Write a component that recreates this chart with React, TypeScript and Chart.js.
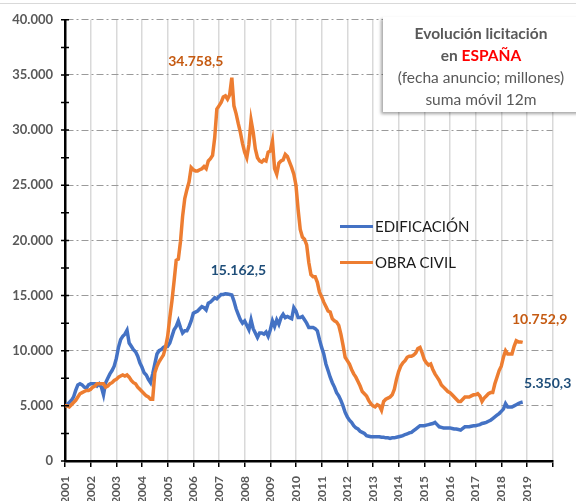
import React, { useEffect, useRef } from "react";
import { Chart, registerables } from "chart.js";

Chart.register(...registerables);

// ---- data (millones de euros, suma móvil 12 meses, mensual desde ene-2001) ----
const yearLabels = [
  "2001", "2002", "2003", "2004", "2005", "2006", "2007", "2008", "2009", "2010",
  "2011", "2012", "2013", "2014", "2015", "2016", "2017", "2018", "2019",
];

const edificacion = [
  5000, 5100, 5300, 5500, 5800, 6400, 6900, 7000, 6900, 6700, 6600, 6900,
  7000, 7000, 7000, 6800, 7000, 6700, 6000, 7100, 7500, 7900, 8200, 8600,
  9300, 10300, 11000, 11300, 11500, 11850, 10700, 10400, 10100, 9900, 9500, 8900,
  8500, 8000, 7800, 7400, 7100, 7900, 8800, 9700, 10000, 10100, 10300, 10400,
  10400, 10700, 11300, 11900, 12200, 12700, 12100, 11600, 11800, 11800, 12200, 12700,
  13400, 13500, 13600, 13800, 14000, 13900, 13700, 14300, 14400, 14600, 14800, 14700,
  14900, 15100, 15100, 15162.5, 15150, 15100, 15050, 14500, 13800, 13300, 12800, 12500,
  12700, 12300, 11900, 12800, 12000, 11600, 11200, 11600, 11600, 11500, 11700, 11300,
  11900, 12700, 12200, 12800, 12400, 13000, 13300, 13000, 13100, 13000, 12900, 13900,
  13600, 13000, 13000, 13100, 12800, 12500, 12100, 12100, 12100, 12000, 11800, 11000,
  10300, 9700, 8800, 8200, 7600, 7100, 6700, 6200, 5900, 5500, 5000, 4400,
  4000, 3700, 3500, 3200, 3000, 2900, 2700, 2600, 2500, 2300, 2250, 2200,
  2200, 2200, 2200, 2200, 2150, 2150, 2100, 2100, 2050, 2100, 2100, 2150,
  2200, 2250, 2300, 2400, 2450, 2550, 2600, 2750, 2900, 3050, 3200, 3200,
  3200, 3250, 3300, 3350, 3400, 3500, 3300, 3100, 3050, 3000, 3000, 3000,
  3000, 2950, 2900, 2900, 2850, 2800, 2950, 3100, 3100, 3100, 3150, 3200,
  3200, 3250, 3300, 3400, 3450, 3500, 3600, 3700, 3850, 4000, 4150, 4300,
  4500, 4700, 5200, 4900, 4900, 4900, 5000, 5100, 5200, 5300, 5350.3,
];

const obraCivil = [
  5000, 5000, 4900, 5100, 5300, 5500, 5800, 6100, 6200, 6300, 6400, 6400,
  6500, 6700, 6800, 7000, 7000, 7000, 7000, 6700, 6800, 7000, 7100, 7300,
  7400, 7600, 7700, 7800, 7700, 7800, 7600, 7300, 7100, 7000, 6700, 6500,
  6300, 6100, 5900, 5800, 5600, 5600, 8000, 8600, 9000, 9300, 9600, 10300,
  11300, 13000, 14500, 16300, 18200, 18300, 19900, 22200, 23800, 24600, 25300, 26600,
  26400, 26300, 26300, 26400, 26500, 26700, 26500, 27200, 27400, 27700, 29300, 31900,
  32200, 32500, 33000, 33100, 32800, 33200, 34758.5, 32200, 31500, 30600, 29800, 28800,
  28000, 27500, 28700, 30900, 29800, 28300, 27500, 27200, 27100, 27300, 27200, 28000,
  28100, 29000, 26500, 26000, 27000, 27200, 27300, 27800, 27600, 27100, 26600, 26000,
  25000, 22800, 21000, 20300, 20100, 19600, 18000, 16900, 16700, 16700, 16200, 15300,
  14900, 14400, 14000, 13600, 13500, 12900, 12700, 12600, 12300, 11500, 10500, 9400,
  9100, 8800, 8300, 7900, 7600, 7200, 6800, 6300, 6100, 5900, 5500, 5200,
  5000, 4900, 5100, 5000, 4600, 5400, 5600, 5700, 5800, 6000, 6500, 7400,
  8100, 8600, 8900, 9100, 9400, 9500, 9500, 9600, 9800, 10200, 10300, 9800,
  9200, 8900, 8700, 8800, 8300, 7900, 7600, 7300, 6900, 6700, 6500, 6300,
  6200, 6000, 5800, 5600, 5400, 5400, 5600, 5800, 5800, 5800, 5900, 6000,
  6000, 6100, 5900, 5400, 5700, 5900, 6100, 6200, 6200, 7000, 7600, 8200,
  8600, 9400, 10000, 9700, 9700, 9700, 10400, 10900, 10800, 10800, 10752.9,
];

const seriesNames = ["EDIFICACIÓN", "OBRA CIVIL"];
const Y_MAX = 40000;
const Y_STEP = 5000;
const Y_MINOR = 2500;
const MONTHS_PER_YEAR = 12;

// ---- styles ----
const BLUE = "#4472C4";
const ORANGE = "#ED7D31";
const BLUE_LABEL = "#1F4E79";
const ORANGE_LABEL = "#C55A11";
const GREY_TEXT = "#595959";
const FONT = "Lato, 'Open Sans', sans-serif";

const thousands = (n: number) =>
  Math.round(n).toString().replace(/\B(?=(\d{3})+(?!\d))/g, ".");
const fmtValue = (v: number) => {
  const fixed = v.toFixed(1);
  const [int, dec] = fixed.split(".");
  return thousands(Number(int)) + "," + dec;
};
const argMax = (a: number[]) => a.reduce((bi, v, i) => (v > a[bi] ? i : bi), 0);

const labelsPlugin = {
  id: "valueLabels",
  afterDatasetsDraw(chart: any) {
    const ctx = chart.ctx;
    const items = [
      { ds: 0, idx: argMax(edificacion), color: BLUE_LABEL, dx: 13, dy: -23 },
      { ds: 1, idx: argMax(obraCivil), color: ORANGE_LABEL, dx: -36, dy: -16 },
      { ds: 0, idx: edificacion.length - 1, color: BLUE_LABEL, dx: 25, dy: -19 },
      { ds: 1, idx: obraCivil.length - 1, color: ORANGE_LABEL, dx: 17, dy: -23 },
    ];
    ctx.save();
    ctx.font = `bold 14px ${FONT}`;
    ctx.textAlign = "center";
    ctx.textBaseline = "middle";
    for (const it of items) {
      const pt = chart.getDatasetMeta(it.ds).data[it.idx];
      const v = chart.data.datasets[it.ds].data[it.idx].y;
      ctx.fillStyle = it.color;
      ctx.fillText(fmtValue(v), pt.x + it.dx, pt.y + it.dy);
    }
    ctx.restore();
  },
};

const crossTicksPlugin = {
  id: "crossTicks",
  afterDraw(chart: any) {
    const ctx = chart.ctx;
    const ys = chart.scales.y;
    const x0 = chart.chartArea.left;
    ctx.save();
    ctx.strokeStyle = "#000";
    ctx.lineWidth = 1.5;
    ctx.beginPath();
    for (let v = 0; v <= Y_MAX; v += Y_MINOR) {
      const py = ys.getPixelForValue(v);
      ctx.moveTo(x0 - 4, py);
      ctx.lineTo(x0 + 4, py);
    }
    ctx.stroke();
    ctx.restore();
  },
};

export default function App() {
  const ref = useRef<HTMLCanvasElement | null>(null);

  useEffect(() => {
    if (!ref.current) return;
    const toPoints = (arr: number[]) => arr.map((y, x) => ({ x, y }));
    const chart = new Chart(ref.current, {
      type: "line",
      data: {
        datasets: [
          {
            label: seriesNames[0],
            data: toPoints(edificacion),
            borderColor: BLUE,
            backgroundColor: BLUE,
            borderWidth: 3.5,
            pointRadius: 0,
            tension: 0,
            order: 1,
          },
          {
            label: seriesNames[1],
            data: toPoints(obraCivil),
            borderColor: ORANGE,
            backgroundColor: ORANGE,
            borderWidth: 3.5,
            pointRadius: 0,
            tension: 0,
            order: 0,
          },
        ],
      },
      options: {
        animation: false,
        responsive: false,
        maintainAspectRatio: false,
        layout: { padding: { top: 13, right: 16, left: 0, bottom: 0 } },
        plugins: {
          legend: { display: false },
          tooltip: { enabled: false },
        },
        scales: {
          x: {
            type: "linear",
            min: 0,
            max: yearLabels.length * MONTHS_PER_YEAR,
            afterBuildTicks: (axis: any) => {
              axis.ticks = Array.from({ length: yearLabels.length + 1 }, (_, k) => ({
                value: k * MONTHS_PER_YEAR,
              }));
            },
            afterFit: (s: any) => {
              s.height = 40;
            },
            ticks: {
              autoSkip: false,
              minRotation: 90,
              maxRotation: 90,
              padding: 9,
              color: GREY_TEXT,
              font: { family: FONT, size: 12, weight: "bold" },
              callback: (_v: any, i: number) => yearLabels[i] ?? "",
            },
            grid: {
              color: "#D9D9D9",
              lineWidth: 1.5,
              tickColor: "#000",
              tickLength: 6,
              tickWidth: 1.5,
            },
            border: { color: "#000", width: 2.5 },
          },
          y: {
            min: 0,
            max: Y_MAX,
            afterFit: (s: any) => {
              s.width = 65;
            },
            ticks: {
              stepSize: Y_STEP,
              padding: 12,
              color: GREY_TEXT,
              font: { family: FONT, size: 13, weight: "bold" },
              callback: (v: any) => thousands(Number(v)),
            },
            grid: {
              color: "#9A9A9A",
              lineWidth: 1,
              drawTicks: false,
            },
            border: { color: "#000", width: 2.5, dash: [7, 3, 2, 3] },
          },
        },
      },
      plugins: [labelsPlugin, crossTicksPlugin],
    });
    return () => chart.destroy();
  }, []);

  const legendRow = (color: string, text: string, top: number) => (
    <div
      style={{
        position: "absolute",
        left: 340,
        top: top - 11,
        height: 22,
        display: "flex",
        alignItems: "center",
      }}
    >
      <div style={{ width: 33, height: 3, background: color }} />
      <span
        style={{
          marginLeft: 2,
          fontFamily: FONT,
          fontSize: 15,
          color: "#1a1a1a",
          whiteSpace: "nowrap",
        }}
      >
        {text}
      </span>
    </div>
  );

  return (
    <div
      style={{
        position: "absolute",
        left: 0,
        top: 0,
        width: 576,
        height: 501,
        background: "#fff",
        overflow: "hidden",
      }}
    >
      <div
        style={{
          position: "absolute",
          left: 0,
          top: 3,
          width: 576,
          height: 1,
          background: "#D9D9D9",
        }}
      />
      <canvas ref={ref} width={576} height={501} style={{ position: "absolute", left: 0, top: 0 }} />
      {legendRow(BLUE, seriesNames[0], 226)}
      {legendRow(ORANGE, seriesNames[1], 262)}
      <div
        style={{
          position: "absolute",
          left: 383,
          top: 17,
          width: 210,
          height: 95,
          background: "#fff",
          boxShadow: "-2px 2px 3px rgba(0,0,0,0.35)",
        }}
      />
      <div
        style={{
          position: "absolute",
          left: 383,
          top: 22,
          width: 196,
          textAlign: "center",
          fontFamily: FONT,
          color: GREY_TEXT,
          fontSize: 15.5,
          lineHeight: "22px",
          whiteSpace: "nowrap",
        }}
      >
        <div style={{ fontWeight: "bold" }}>Evolución licitación</div>
        <div style={{ fontWeight: "bold" }}>
          en <span style={{ color: "#FF0000" }}>ESPAÑA</span>
        </div>
        <div>(fecha anuncio; millones)</div>
        <div>suma móvil 12m</div>
      </div>
    </div>
  );
}
